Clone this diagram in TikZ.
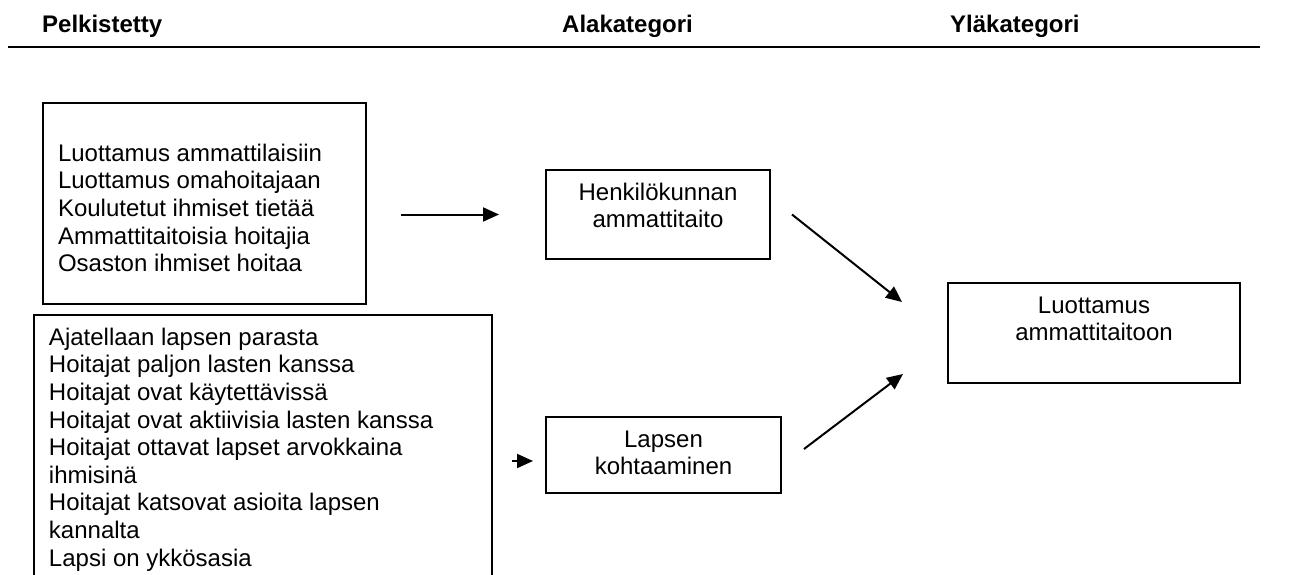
\documentclass[tikz,border=0pt]{standalone}
\usepackage{fontspec}
\setmainfont{Liberation Sans}
\usetikzlibrary{arrows.meta,calc}

\tikzset{
  catbox/.style={draw, line width=2pt, inner sep=0pt, anchor=north west},
  headtext/.style={anchor=base west, inner sep=0pt, font=\bfseries\fontsize{24}{28}\selectfont},
  link/.style={line width=2pt, -{Triangle[length=16pt,width=14pt]}},
}

% box body: width, height, gap above first line, alignment, lines
\newcommand{\boxbody}[5]{%
  \begin{minipage}[c][#2][t]{#1}\fontsize{24}{27.6}\selectfont
    \vspace*{#3}#4\strut #5\end{minipage}}
\newcommand{\leftset}{\raggedright\leftskip=15pt\relax}

\begin{document}
\begin{tikzpicture}[x=1pt,y=-1pt]
  \useasboundingbox (0,0) rectangle (1291,575);
  \clip (0,0) rectangle (1291,575);

  % column headings and rule
  \node[headtext] (h1) at (42,33)  {Pelkistetty};
  \node[headtext] (h2) at (562,33) {Alakategori};
  \node[headtext] (h3) at (950,33) {Yläkategori};
  \draw[line width=2pt] (8,47) -- (1260,47);

  % reduced expressions
  \node[catbox] (b1) at (42,102) {\boxbody{323pt}{201pt}{39pt}{\leftset}{%
    Luottamus ammattilaisiin\\
    Luottamus omahoitajaan\\
    Koulutetut ihmiset tietää\\
    Ammattitaitoisia hoitajia\\
    Osaston ihmiset hoitaa}};

  \node[catbox] (b2) at (33,314) {\boxbody{458pt}{300pt}{11pt}{\leftset}{%
    Ajatellaan lapsen parasta\\
    Hoitajat paljon lasten kanssa\\
    Hoitajat ovat käytettävissä\\
    Hoitajat ovat aktiivisia lasten kanssa\\
    Hoitajat ottavat lapset arvokkaina\\
    ihmisinä\\
    Hoitajat katsovat asioita lapsen\\
    kannalta\\
    Lapsi on ykkösasia}};

  % subcategories
  \node[catbox] (hk) at (545,169) {\boxbody{224pt}{89pt}{11pt}{\centering}{%
    Henkilökunnan\\ammattitaito}};
  \node[catbox] (lk) at (545,416) {\boxbody{235pt}{76pt}{11pt}{\centering}{%
    Lapsen\\kohtaaminen}};

  % main category
  \node[catbox] (lu) at (947,282) {\boxbody{292pt}{100pt}{11pt}{\centering}{%
    Luottamus\\ammattitaitoon}};

  % connectors
  \draw[link] ($(b1.east |- hk.west)+(34,0)$) -- ($(hk.west)+(-46,0)$);
  \draw[link] ($(lk.west)+(-33,6)$) -- ($(lk.west)+(-12,6)$);
  \draw[link] ($(hk.east)+(21,0)$) -- ($(lu.north west)+(-45,20)$);
  \draw[link] ($(lk.east)+(22,-6)$) -- ($(lu.south west)+(-44,-10)$);
\end{tikzpicture}
\end{document}
